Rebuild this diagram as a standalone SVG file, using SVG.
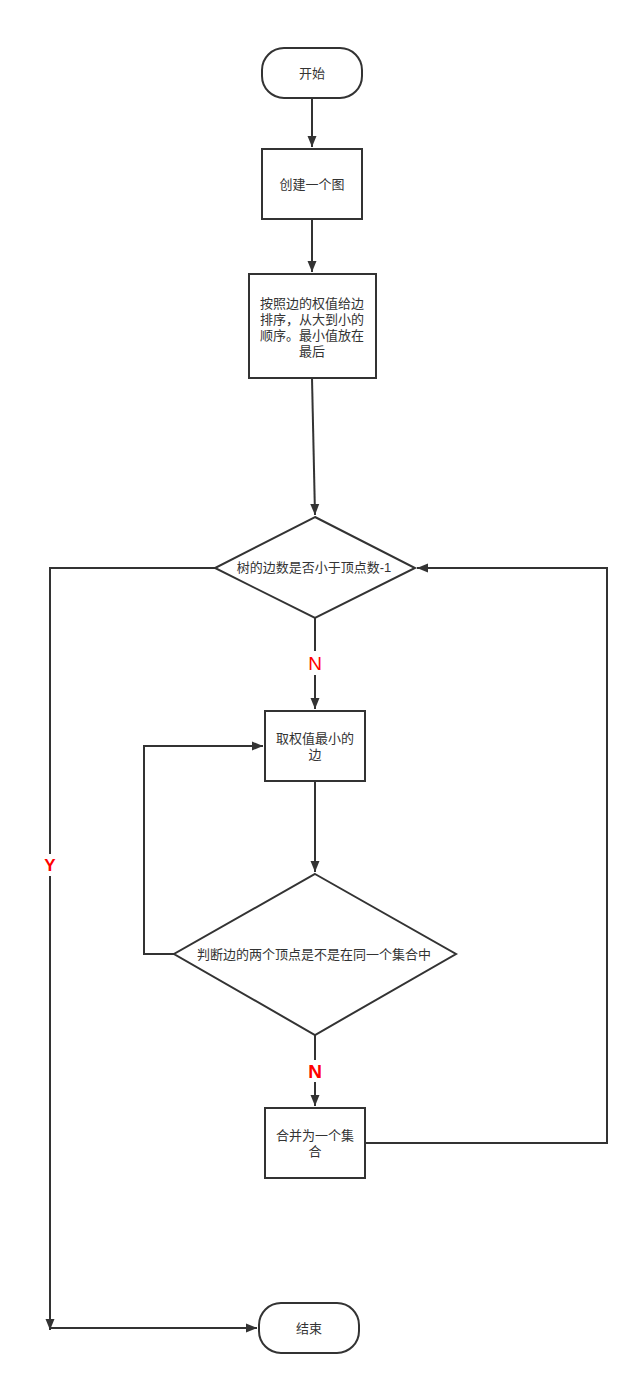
<svg xmlns="http://www.w3.org/2000/svg" width="639" height="1385" viewBox="0 0 639 1385">
<style>
.n{fill:#fff;stroke:#333;stroke-width:2}
.t{font-family:"Liberation Sans","Noto Sans CJK SC",sans-serif;font-size:13px;fill:#333;text-anchor:middle}
.e{fill:none;stroke:#333;stroke-width:2}
.l{font-family:"Liberation Sans","Noto Sans CJK SC",sans-serif;fill:#f00;text-anchor:middle}
</style>
<defs>
<marker id="a" markerUnits="userSpaceOnUse" markerWidth="12" markerHeight="10" refX="11" refY="5" orient="auto">
<path d="M0,0.5 L11,5 L0,9.5 Z" fill="#333"/>
</marker>
</defs>
<rect width="639" height="1385" fill="#fff"/>
<g id="edges">
<path class="e" d="M312,98 V147" marker-end="url(#a)"/>
<path class="e" d="M312,219 V272" marker-end="url(#a)"/>
<path class="e" d="M312,378 L315,515" marker-end="url(#a)"/>
<path class="e" d="M315,618 V651 M315,675 V709" marker-end="url(#a)"/>
<path class="e" d="M315,781 V872" marker-end="url(#a)"/>
<path class="e" d="M174,954 H144 V746 H263" marker-end="url(#a)"/>
<path class="e" d="M315,1035 V1060 M315,1082 V1106" marker-end="url(#a)"/>
<path class="e" d="M365,1143 H607 V568 H417" marker-end="url(#a)"/>
<path class="e" d="M215,568 H50 V854 M50,876 V1330" marker-end="url(#a)"/>
<path class="e" d="M50,1328 H257" marker-end="url(#a)"/>
<text class="l" x="315" y="670" font-size="19">N</text>
<text class="l" x="315" y="1078" font-size="19" font-weight="bold">N</text>
<text class="l" x="50" y="871" font-size="17" font-weight="bold">Y</text>
</g>
<g id="start">
<rect class="n" x="262" y="48" width="100" height="50" rx="22"/>
<text class="t" x="312" y="78">开始</text>
</g>
<g id="create">
<rect class="n" x="262" y="149" width="100" height="70"/>
<text class="t" x="312" y="189">创建一个图</text>
</g>
<g id="sort">
<rect class="n" x="249" y="274" width="127" height="104"/>
<text class="t" x="312" y="308">按照边的权值给边</text>
<text class="t" x="312" y="324">排序，从大到小的</text>
<text class="t" x="312" y="340">顺序。最小值放在</text>
<text class="t" x="312" y="356">最后</text>
</g>
<g id="cond1">
<path class="n" d="M315,517 L415,568 L315,618 L215,568 Z"/>
<text class="t" x="314" y="572">树的边数是否小于顶点数-1</text>
</g>
<g id="pick">
<rect class="n" x="265" y="711" width="100" height="70"/>
<text class="t" x="315" y="743">取权值最小的</text>
<text class="t" x="315" y="759">边</text>
</g>
<g id="cond2">
<path class="n" d="M315,874 L456,954 L315,1035 L174,954 Z"/>
<text class="t" x="314" y="959">判断边的两个顶点是不是在同一个集合中</text>
</g>
<g id="merge">
<rect class="n" x="265" y="1108" width="100" height="70"/>
<text class="t" x="315" y="1140">合并为一个集</text>
<text class="t" x="315" y="1156">合</text>
</g>
<g id="end">
<rect class="n" x="259" y="1303" width="100" height="50" rx="22"/>
<text class="t" x="309" y="1333">结束</text>
</g>
</svg>
